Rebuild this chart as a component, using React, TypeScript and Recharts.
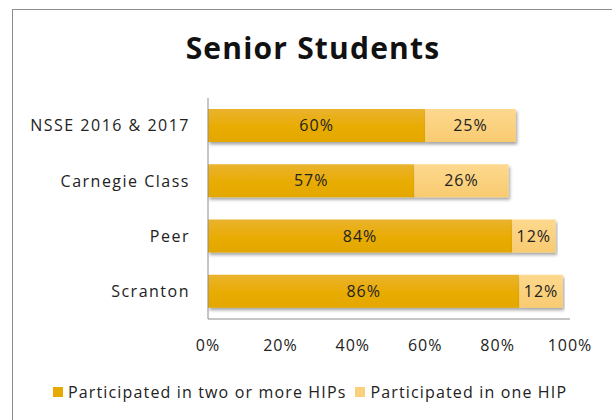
import { BarChart, Bar, XAxis, YAxis, LabelList } from 'recharts';

const categories = ['NSSE 2016 & 2017', 'Carnegie Class', 'Peer', 'Scranton'];
const twoOrMore = [60, 57, 84, 86];
const oneHip = [25, 26, 12, 12];
const xTicks = [0, 20, 40, 60, 80, 100];

const SERIES_A = 'Participated in two or more HIPs';
const SERIES_B = 'Participated in one HIP';

const data = categories.map((name, i) => ({
  name,
  two: twoOrMore[i],
  one: oneHip[i],
}));

const FONT = '"Open Sans", Lato, sans-serif';
const textStyle = { fill: '#222', fontSize: 16, fontFamily: FONT, letterSpacing: 1 };
const yTextStyle = { ...textStyle, letterSpacing: 1.5 };

export default function App() {
  return (
    <div
      style={{
        position: 'absolute',
        left: 0,
        top: 0,
        width: 612,
        height: 420,
        overflow: 'hidden',
        background: '#fff',
        fontFamily: FONT,
      }}
    >
      {/* chart frame, runs off the right and bottom edges */}
      <div
        style={{
          position: 'absolute',
          left: 12,
          top: 9,
          width: 700,
          height: 500,
          border: '1px solid #8c8c8c',
        }}
      />
      <div
        style={{
          position: 'absolute',
          left: 0,
          top: 27,
          width: 626,
          textAlign: 'center',
          fontSize: 30,
          fontWeight: 700,
          letterSpacing: 1.2,
          color: '#111',
        }}
      >
        Senior Students
      </div>
      <div style={{ position: 'absolute', left: 0, top: 0 }}>
        <BarChart
          width={612}
          height={420}
          data={data}
          layout="vertical"
          margin={{ top: 98, right: 42, left: 8, bottom: 61 }}
        >
          <defs>
            <linearGradient id="gTwo" x1="0" y1="0" x2="0" y2="1">
              <stop offset="0%" stopColor="#EAB32E" />
              <stop offset="50%" stopColor="#E9AC06" />
              <stop offset="100%" stopColor="#E4A700" />
            </linearGradient>
            <linearGradient id="gOne" x1="0" y1="0" x2="0" y2="1">
              <stop offset="0%" stopColor="#FDD88E" />
              <stop offset="100%" stopColor="#F9CB70" />
            </linearGradient>
            <filter id="shadow" x="-5%" y="-20%" width="110%" height="150%">
              <feDropShadow dx="1.5" dy="2.5" stdDeviation="1.5" floodColor="#000" floodOpacity="0.35" />
            </filter>
          </defs>
          <XAxis
            type="number"
            domain={[0, 100]}
            ticks={xTicks}
            tickFormatter={(v) => `${v}%`}
            tickLine={false}
            axisLine={{ stroke: '#8c8c8c' }}
            tickMargin={15}
            height={40}
            tick={textStyle}
            interval={0}
          />
          <YAxis
            type="category"
            dataKey="name"
            width={200}
            tickLine={false}
            axisLine={{ stroke: '#8c8c8c' }}
            tickMargin={12}
            tick={yTextStyle}
          />
          <Bar
            dataKey="two"
            name={SERIES_A}
            stackId="s"
            fill="url(#gTwo)"
            barSize={33}
            filter="url(#shadow)"
            isAnimationActive={false}
          >
            <LabelList
              dataKey="two"
              position="center"
              formatter={(v: number) => `${v}%`}
              style={textStyle}
            />
          </Bar>
          <Bar
            dataKey="one"
            name={SERIES_B}
            stackId="s"
            fill="url(#gOne)"
            barSize={33}
            filter="url(#shadow)"
            isAnimationActive={false}
          >
            <LabelList
              dataKey="one"
              position="center"
              formatter={(v: number) => `${v}%`}
              style={textStyle}
            />
          </Bar>
        </BarChart>
      </div>
      <div
        style={{
          position: 'absolute',
          left: 53,
          top: 381,
          display: 'flex',
          alignItems: 'center',
          fontSize: 16,
          letterSpacing: 1.15,
          color: '#222',
          whiteSpace: 'nowrap',
        }}
      >
        <span style={{ width: 10, height: 10, background: '#E7AA00', marginRight: 5 }} />
        <span style={{ marginRight: 9 }}>{SERIES_A}</span>
        <span style={{ width: 10, height: 10, background: '#FBD07C', marginRight: 5 }} />
        <span>{SERIES_B}</span>
      </div>
    </div>
  );
}
